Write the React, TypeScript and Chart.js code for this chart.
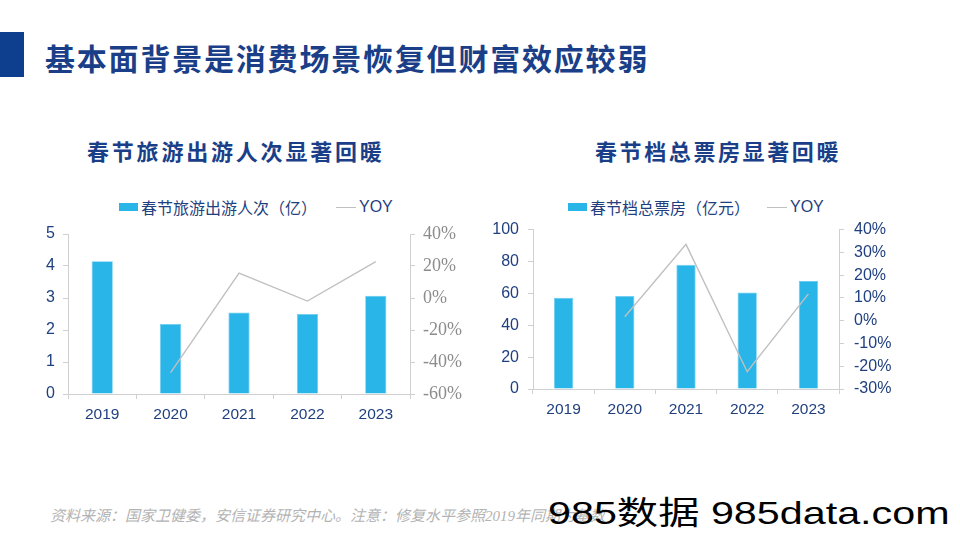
import React, { useEffect, useRef } from "react";
import { Chart, registerables } from "chart.js";

Chart.register(...registerables);

const years = ["2019", "2020", "2021", "2022", "2023"];
const travelPeople = [4.15, 2.19, 2.55, 2.5, 3.07];
const travelYoy = [null, -46.7, 15.6, -1.9, 22.7];
const boxOffice = [57.2, 58.4, 77.9, 60.6, 67.7];
const boxOfficeYoy = [null, 1.7, 33.5, -22.4, 11.8];

const mainTitle = "基本面背景是消费场景恢复但财富效应较弱";
const leftTitle = "春节旅游出游人次显著回暖";
const rightTitle = "春节档总票房显著回暖";
const leftBarLabel = "春节旅游出游人次（亿）";
const rightBarLabel = "春节档总票房（亿元）";
const lineLabel = "YOY";
const footer = "资料来源：国家卫健委，安信证券研究中心。注意：修复水平参照2019年同期为基数";
const watermark = "985数据 985data.com";

const BLUE_TEXT = "#1f3f7f";
const BAR = "#29B5E8";
const LINE = "#c0c0c0";
const AXIS = "#d0d0d0";
const SANS = "Liberation Sans";

type Cfg = {
  bars: number[];
  yoy: (number | null)[];
  barLabel: string;
  yMax: number;
  yStep: number;
  y1Min: number;
  y1Max: number;
  y1Step: number;
  leftW: number;
  rightW: number;
  xH: number;
  padTop: number;
  barPct: number;
  rightFont: any;
  rightColor: string;
  leftPad: number;
  rightPad: number;
  width: number;
  height: number;
};

function ChartBox(props: Cfg & { style: React.CSSProperties }) {
  const ref = useRef<HTMLCanvasElement>(null);
  useEffect(() => {
    if (!ref.current) return;
    const c = new Chart(ref.current, {
      type: "bar",
      data: {
        labels: years,
        datasets: [
          {
            type: "line",
            label: lineLabel,
            data: props.yoy as any,
            yAxisID: "y1",
            borderColor: LINE,
            borderWidth: 1.4,
            pointRadius: 0,
            tension: 0,
            order: 0,
          } as any,
          {
            type: "bar",
            label: props.barLabel,
            data: props.bars,
            yAxisID: "y",
            backgroundColor: BAR,
            borderColor: "#6ccdf0",
            borderWidth: 0.8,
            barPercentage: props.barPct,
            categoryPercentage: 1,
            order: 1,
          },
        ],
      },
      options: {
        responsive: false,
        animation: false,
        layout: { padding: { top: props.padTop, left: 0, right: 0, bottom: 0 } },
        plugins: { legend: { display: false }, tooltip: { enabled: false } },
        scales: {
          x: {
            offset: true,
            grid: { offset: true, drawOnChartArea: false, drawTicks: true, tickLength: 5, color: AXIS },
            border: { color: AXIS },
            ticks: { color: BLUE_TEXT, font: { family: SANS, size: 15.5 }, padding: 6 },
            afterFit: (s: any) => {
              s.height = props.xH;
            },
          },
          y: {
            position: "left",
            min: 0,
            max: props.yMax,
            ticks: { stepSize: props.yStep, color: BLUE_TEXT, font: { family: SANS, size: 16 }, padding: props.leftPad },
            grid: { drawOnChartArea: false, drawTicks: true, tickLength: 5, color: AXIS },
            border: { color: AXIS },
            afterFit: (s: any) => {
              s.width = props.leftW;
            },
          },
          y1: {
            position: "right",
            min: props.y1Min,
            max: props.y1Max,
            ticks: {
              stepSize: props.y1Step,
              color: props.rightColor,
              font: props.rightFont,
              padding: props.rightPad,
              callback: (v: any) => `${v}%`,
            },
            grid: { drawOnChartArea: false, drawTicks: true, tickLength: 5, color: AXIS },
            border: { color: AXIS },
            afterFit: (s: any) => {
              s.width = props.rightW;
            },
          },
        },
      } as any,
    });
    return () => c.destroy();
  }, []);
  return (
    <canvas
      ref={ref}
      width={props.width}
      height={props.height}
      style={{ position: "absolute", width: props.width, height: props.height, ...props.style }}
    />
  );
}

function Legend(props: { left: number; top: number; label: string; lineLeft: number }) {
  const common: React.CSSProperties = {
    position: "absolute",
    fontFamily: `"${SANS}", "Noto Sans CJK SC"`,
    fontSize: 16,
    color: BLUE_TEXT,
    lineHeight: "18px",
    whiteSpace: "nowrap",
  };
  return (
    <>
      <div style={{ position: "absolute", left: props.left, top: props.top - 4, width: 19, height: 8, background: BAR }} />
      <div style={{ ...common, left: props.left + 22, top: props.top - 9, fontFamily: '"Noto Sans CJK SC"' }}>{props.label}</div>
      <div style={{ position: "absolute", left: props.lineLeft, top: props.top, width: 20, height: 1.4, background: LINE }} />
      <div style={{ ...common, left: props.lineLeft + 23, top: props.top - 9 }}>{lineLabel}</div>
    </>
  );
}

export default function App() {
  const titleStyle: React.CSSProperties = {
    position: "absolute",
    fontFamily: '"Noto Sans CJK SC"',
    fontWeight: 700,
    color: "#1a3f88",
    whiteSpace: "nowrap",
    lineHeight: 1,
  };
  return (
    <div style={{ position: "absolute", left: 0, top: 0, width: 960, height: 540, background: "#fff", overflow: "hidden" }}>
      <div style={{ position: "absolute", left: 0, top: 32, width: 24, height: 45, background: "#0e3e8e" }} />
      <div style={{ ...titleStyle, left: 45, top: 42, fontSize: 30, letterSpacing: 1.8 }}>{mainTitle}</div>
      <div style={{ ...titleStyle, left: 87, top: 139, fontSize: 22, letterSpacing: 2.8 }}>{leftTitle}</div>
      <div style={{ ...titleStyle, left: 595, top: 139, fontSize: 22, letterSpacing: 2.6 }}>{rightTitle}</div>

      <Legend left={119} top={207} label={leftBarLabel} lineLeft={336} />
      <Legend left={568} top={207} label={rightBarLabel} lineLeft={767} />

      <ChartBox
        style={{ left: 30, top: 214 }}
        width={440}
        height={216}
        bars={travelPeople}
        yoy={travelYoy}
        barLabel={leftBarLabel}
        yMax={5}
        yStep={1}
        y1Min={-60}
        y1Max={40}
        y1Step={20}
        leftW={38}
        rightW={60}
        xH={36}
        padTop={20}
        barPct={0.31}
        rightFont={{ family: '"Times New Roman", "Liberation Serif", serif', size: 18 }}
        rightColor="#8c8c8c"
        leftPad={8}
        rightPad={8}
      />
      <ChartBox
        style={{ left: 480, top: 210 }}
        width={420}
        height={220}
        bars={boxOffice}
        yoy={boxOfficeYoy}
        barLabel={rightBarLabel}
        yMax={100}
        yStep={20}
        y1Min={-30}
        y1Max={40}
        y1Step={10}
        leftW={53}
        rightW={61}
        xH={41}
        padTop={17}
        barPct={0.315}
        rightFont={{ family: SANS, size: 16 }}
        rightColor={BLUE_TEXT}
        leftPad={9}
        rightPad={10}
      />

      <div
        style={{
          position: "absolute",
          left: 50,
          top: 507,
          fontFamily: '"Liberation Serif", "Noto Sans CJK SC"',
          fontStyle: "italic",
          fontSize: 15,
          lineHeight: "18px",
          color: "#b3b3b3",
          whiteSpace: "nowrap",
        }}
      >
        {footer}
      </div>
      <div
        style={{
          position: "absolute",
          left: 548,
          top: 495,
          fontFamily: `"${SANS}", "Noto Sans CJK SC"`,
          fontSize: 32,
          lineHeight: "36px",
          color: "#000",
          whiteSpace: "nowrap",
          transform: "scaleX(1.29)",
          transformOrigin: "left top",
        }}
      >
        {watermark}
      </div>
    </div>
  );
}
